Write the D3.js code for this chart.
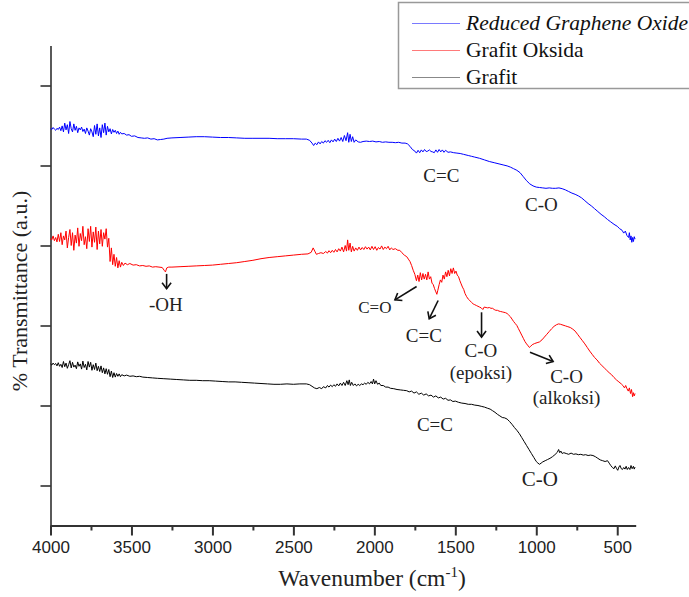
<!DOCTYPE html>
<meta charset="utf-8">
<style>

body {
  margin: 0;
  background: #fff;
}

svg {
  display: block;
  font-family: 'Liberation Serif', 'Times New Roman', serif;
}

.yaxis path, .yaxis line {
  stroke: #000;
  stroke-width: 1.3px;
}

.xaxis path, .xaxis line {
  stroke: #333;
  stroke-width: 2px;
}

.xaxis text {
  font-family: 'Liberation Sans', Arial, sans-serif;
  font-size: 17px;
  fill: #222;
}

.curve {
  fill: none;
  stroke-width: 1px;
}

.note {
  font-size: 19px;
  fill: #222;
  text-anchor: middle;
}

.note.small { font-size: 17px; }
.note.big { font-size: 21px; }

.arrow {
  stroke: #111;
  stroke-width: 1.6px;
}

.legend text {
  font-size: 21.5px;
  fill: #111;
}

.title {
  fill: #222;
  text-anchor: middle;
}

</style>
<body>
<script src="https://cdnjs.cloudflare.com/ajax/libs/d3/7.8.5/d3.min.js"></script>
<script>

// wavenumber (cm-1), transmittance (a.u., offset per sample)
var rgo = [[4000,99.2],[3992,99.0],[3984,99.5],[3976,99.1],[3968,98.8],[3960,99.3],[3952,99.0],[3944,99.6],[3936,98.7],[3928,99.9],
  [3920,98.4],[3912,100.6],[3904,98.9],[3896,100.2],[3888,98.0],[3880,101.0],[3872,99.2],[3864,98.4],[3856,100.4],[3848,98.8],
  [3840,99.8],[3832,98.2],[3824,99.4],[3816,98.9],[3808,99.6],[3800,98.5],[3792,99.1],[3784,98.0],[3776,99.4],[3768,98.6],
  [3760,97.6],[3752,99.2],[3744,98.4],[3736,97.2],[3728,100.0],[3720,97.8],[3712,100.4],[3704,97.4],[3696,99.4],[3688,97.0],
  [3680,100.2],[3672,98.2],[3664,100.6],[3656,97.6],[3648,99.8],[3640,98.4],[3632,99.2],[3624,97.9],[3616,99.0],[3608,98.3],
  [3600,98.8],[3592,98.0],[3584,98.6],[3576,97.8],[3568,98.3],[3560,97.9],[3545,98.0],[3530,97.6],[3515,97.7],[3500,97.3],
  [3480,97.4],[3460,97.0],[3440,96.9],
  [3420,96.8],[3400,96.9],[3380,96.6],[3360,96.7],[3340,96.4],[3320,96.5],[3300,96.6],[3280,96.8],[3250,96.9],[3200,97.0],
  [3150,97.1],[3100,97.2],[3050,97.2],[3000,97.1],[2950,97.0],[2900,97.0],[2850,96.9],[2800,96.8],[2750,96.8],[2700,96.8],
  [2650,96.8],[2600,96.7],[2550,96.7],[2500,96.7],[2450,96.6],[2420,96.6],[2400,96.3],[2385,95.6],[2375,95.0],[2365,95.6],
  [2355,95.2],[2345,95.9],[2335,95.4],[2325,96.0],[2315,95.6],[2305,96.2],[2295,95.8],[2285,96.3],[2275,95.7],[2265,96.4],
  [2255,95.9],[2245,96.6],[2235,96.0],[2225,96.8],[2215,96.1],[2205,97.0],[2195,96.0],[2185,97.5],[2175,96.2],[2165,98.2],
  [2158,95.8],[2150,97.8],[2142,96.0],[2134,97.2],[2125,95.8],[2115,96.4],[2100,95.9],[2085,95.8],[2070,96.0],[2050,96.1],
  [2030,96.0],[2010,96.1],[1990,95.9],[1970,96.0],[1950,95.8],[1930,95.9],[1910,95.8],[1890,95.8],[1870,95.7],[1850,95.8],
  [1830,95.6],[1810,95.6],[1795,95.4],[1780,94.8],[1765,94.0],[1750,93.6],[1740,93.1],[1730,93.8],[1720,93.2],[1710,93.9],
  [1700,93.4],[1690,94.0],[1680,93.5],[1670,93.6],[1660,93.9],[1650,93.5],[1640,93.4],[1630,93.2],[1620,93.9],[1610,93.3],
  [1600,94.0],[1590,93.4],[1580,93.9],[1570,93.3],[1560,93.8],[1545,93.3],[1530,93.4],[1510,93.2],[1490,93.1],[1470,93.0],
  [1450,92.8],[1420,92.5],[1400,92.3],[1380,92.1],[1350,91.8],[1320,91.4],[1290,91.0],[1260,90.7],[1230,90.4],[1200,90.1],
  [1180,89.9],[1160,89.6],[1140,89.2],[1120,88.8],[1100,88.2],[1080,87.2],[1060,86.2],[1040,85.4],[1020,84.9],[1000,84.6],
  [980,84.5],[960,84.4],[940,84.3],[920,84.4],[900,84.3],[880,84.3],[860,84.4],[840,84.2],[820,83.9],[800,83.5],
  [780,83.1],[760,82.8],[740,82.4],[720,81.9],[700,81.2],[680,80.5],[660,79.9],[640,79.2],[620,78.5],[600,77.8],
  [580,77.2],[560,76.5],[540,75.9],[520,75.3],[500,74.8],[485,74.2],[470,73.8],[460,73.1],[450,73.6],[440,72.5],
  [430,72.0],[425,73.2],[420,71.4],[415,72.4],[410,70.8],[405,72.0],[400,71.0],[395,72.2],[390,71.6]];

var go = [[4000,71.8],[3992,71.4],[3984,72.4],[3976,71.2],[3968,72.0],[3960,70.9],[3952,72.8],[3944,71.0],[3936,73.2],[3928,70.2],
  [3920,72.4],[3912,71.4],[3904,73.6],[3896,69.4],[3888,72.0],[3880,74.0],[3872,70.0],[3864,73.2],[3856,68.8],[3848,72.6],
  [3840,70.6],[3832,74.4],[3824,69.8],[3816,73.0],[3808,71.2],[3800,74.8],[3792,70.2],[3784,72.2],[3776,69.2],[3768,74.2],
  [3760,71.0],[3752,74.8],[3744,69.6],[3736,73.4],[3728,70.8],[3720,74.6],[3712,69.0],[3704,73.6],[3696,70.4],[3688,74.0],
  [3680,69.8],[3672,73.2],[3664,71.6],[3656,74.2],[3648,69.6],[3640,71.8],[3632,66.0],[3624,69.4],[3616,65.2],
  [3608,67.8],[3600,64.8],[3592,67.0],[3584,64.4],[3576,66.2],[3568,64.6],[3560,65.8],[3550,65.0],[3540,65.6],[3525,65.2],
  [3510,65.5],[3490,65.1],[3470,65.2],[3450,64.9],[3430,65.0],[3410,64.8],[3390,64.9],[3370,64.6],[3350,64.7],[3330,64.6],
  [3310,64.5],[3298,63.8],[3290,63.4],[3282,64.4],[3270,64.6],[3250,64.6],[3200,64.7],[3150,64.8],[3100,64.9],[3050,65.0],
  [3000,65.1],[2950,65.3],[2900,65.5],[2850,65.7],[2800,66.0],[2750,66.3],[2700,66.7],[2650,67.0],[2600,67.2],[2550,67.4],
  [2500,67.6],[2450,67.8],[2410,67.9],[2390,68.3],[2378,69.4],[2368,68.6],[2358,67.8],[2345,68.0],[2330,68.2],[2315,68.0],
  [2300,68.5],[2290,68.1],[2280,68.7],[2270,68.2],[2260,68.8],[2250,68.3],[2240,69.0],[2230,68.4],[2220,69.2],[2210,68.6],
  [2200,69.6],[2190,68.4],[2180,70.0],[2172,68.6],[2165,71.4],[2158,68.8],[2150,70.6],[2142,68.4],[2134,69.8],[2125,68.6],
  [2115,69.4],[2105,68.8],[2095,69.6],[2085,68.9],[2075,69.5],[2065,69.0],[2055,69.7],[2045,69.1],[2035,69.6],[2025,68.9],
  [2015,69.8],[2005,69.0],[1995,69.7],[1985,68.8],[1975,69.5],[1965,69.1],[1955,69.9],[1945,69.0],[1935,69.6],[1925,69.2],
  [1915,69.8],[1905,68.9],[1895,69.4],[1885,69.0],[1870,69.2],[1855,68.8],[1843,68.8],[1830,68.2],[1815,67.6],[1800,67.2],
  [1790,66.6],[1780,66.0],[1770,65.0],[1760,63.8],[1750,62.8],[1740,61.2],[1732,62.6],[1724,61.0],[1716,63.2],[1708,61.4],
  [1700,63.0],[1692,61.6],[1684,62.8],[1676,61.4],[1668,63.4],[1660,61.6],[1652,62.2],[1644,60.6],[1636,60.2],[1628,59.2],
  [1620,58.4],[1614,57.8],[1608,58.8],[1600,60.2],[1592,61.4],[1584,60.8],[1576,62.6],[1568,61.6],[1560,63.4],[1552,62.2],
  [1544,63.8],[1536,62.4],[1528,64.2],[1520,63.0],[1512,64.4],[1504,63.0],[1496,63.6],[1488,62.6],[1480,62.2],[1472,61.2],
  [1464,60.4],[1456,59.6],[1448,59.0],[1440,58.0],[1430,57.2],[1420,56.6],[1410,56.2],[1400,55.8],[1390,55.4],[1380,55.2],
  [1370,55.0],[1360,54.8],[1350,54.6],[1340,54.4],[1330,54.0],[1322,54.6],[1310,54.5],[1300,54.4],[1290,54.5],[1280,54.3],
  [1270,54.3],[1260,54.0],[1250,53.8],[1240,53.8],[1230,53.6],[1220,53.5],[1210,53.4],[1200,53.3],[1190,53.2],[1180,53.0],
  [1170,52.6],[1160,52.2],[1150,51.6],[1140,51.0],[1130,50.5],[1120,50.0],[1110,49.2],[1100,48.4],[1090,47.6],[1080,46.8],
  [1070,46.0],[1060,45.4],[1050,44.9],[1042,44.5],[1035,44.8],[1025,45.2],[1010,45.5],[995,45.7],[980,45.9],[965,46.4],
  [950,47.1],[935,47.8],[920,48.5],[905,49.2],[890,49.8],[875,50.2],[862,50.4],[850,50.3],[835,50.1],[820,49.9],
  [805,49.7],[790,49.5],[775,49.1],[760,48.6],[745,47.8],[730,47.0],[715,46.2],[700,45.4],[685,44.5],[670,43.6],
  [655,42.8],[640,42.0],[625,41.4],[610,40.6],[595,40.0],[580,39.4],[565,38.8],[550,38.2],[535,37.7],[520,37.0],
  [505,36.4],[490,35.9],[475,35.4],[465,35.0],[455,34.4],[448,35.0],[440,34.2],[432,33.6],[425,34.4],[418,33.0],
  [412,34.0],[405,32.2],[400,33.2],[395,32.4],[390,33.0]];

var grafit = [[4000,40.4],[3992,40.1],[3984,40.6],[3976,40.2],[3968,40.5],[3960,39.9],[3952,40.7],[3944,39.8],[3936,40.3],[3928,39.5],
  [3920,41.0],[3912,39.7],[3904,40.6],[3896,39.3],[3888,40.2],[3880,41.2],[3872,39.4],[3864,40.8],[3856,39.6],[3848,40.1],
  [3840,39.2],[3832,40.9],[3824,39.8],[3816,40.4],[3808,39.1],[3800,41.1],[3792,39.5],[3784,40.3],[3776,38.9],[3768,41.0],
  [3760,39.6],[3752,40.8],[3744,38.8],[3736,40.2],[3728,39.0],[3720,40.6],[3712,38.7],[3704,39.8],[3696,38.5],[3688,39.9],
  [3680,38.2],[3672,39.4],[3664,37.9],[3656,39.2],[3648,37.8],[3640,39.0],[3632,37.2],[3624,38.6],[3616,37.0],[3608,38.2],
  [3600,37.1],[3592,38.0],[3584,37.3],[3576,37.9],[3568,37.2],[3560,37.7],[3545,37.4],[3530,37.6],[3510,37.3],[3490,37.4],
  [3470,37.2],
  [3450,37.3],[3430,37.1],[3400,37.0],[3370,36.9],[3340,36.8],[3300,36.7],[3260,36.6],[3220,36.5],[3180,36.4],[3140,36.3],
  [3100,36.3],[3060,36.2],[3020,36.2],[2980,36.1],[2940,36.0],[2900,35.9],[2860,35.9],[2820,35.8],[2780,35.7],[2740,35.6],
  [2700,35.5],[2660,35.4],[2620,35.3],[2580,35.3],[2540,35.4],[2500,35.3],[2460,35.4],[2420,35.4],[2400,35.2],[2385,34.8],
  [2370,34.4],[2355,34.2],[2340,34.5],[2325,34.2],[2315,34.7],[2300,34.4],[2290,35.0],[2280,34.6],[2270,35.1],[2260,34.7],
  [2250,35.2],[2240,34.8],[2230,35.4],[2220,34.9],[2210,35.6],[2200,35.0],[2190,35.8],[2180,35.0],[2170,36.2],[2162,35.2],
  [2155,36.4],[2148,35.0],[2140,35.8],[2130,35.0],[2120,35.4],[2110,34.9],[2100,35.3],[2090,35.0],[2080,35.4],[2070,35.2],
  [2060,35.6],[2050,35.3],[2040,35.8],[2030,35.4],[2020,36.0],[2012,35.4],[2005,36.6],[1998,35.4],[1990,36.2],[1980,35.3],
  [1970,35.6],[1960,35.0],[1945,35.0],[1930,34.6],[1915,34.6],[1900,34.3],[1880,34.2],[1860,34.0],[1840,33.9],[1820,33.8],
  [1800,33.7],[1785,33.4],[1770,33.6],[1755,33.1],[1740,33.4],[1725,32.8],[1710,33.1],[1695,32.6],[1680,32.9],[1665,32.4],
  [1650,32.6],[1635,32.1],[1620,32.4],[1605,31.9],[1590,32.1],[1575,31.6],[1560,31.8],[1545,31.3],[1530,31.4],[1515,31.0],
  [1500,31.1],[1480,30.8],[1460,30.6],[1440,30.5],[1420,30.3],[1400,30.3],[1380,30.1],[1360,30.0],[1340,29.8],[1320,29.6],
  [1300,29.3],[1285,29.1],[1270,28.7],[1255,28.3],[1240,27.8],[1225,27.4],[1210,27.0],[1195,26.9],[1180,26.6],[1165,26.0],
  [1150,25.3],[1135,24.5],[1120,23.8],[1105,23.0],[1090,22.0],[1075,21.0],[1060,20.0],[1045,19.0],[1030,18.0],[1015,17.0],
  [1000,16.0],[990,15.6],[980,15.3],[970,15.6],[960,15.9],[945,16.2],[930,16.5],[915,16.8],[900,17.2],[885,17.7],
  [870,18.3],[862,19.0],[855,18.2],[848,18.6],[840,18.0],[830,18.2],[815,18.0],[800,17.8],[785,18.1],[770,17.8],
  [755,17.9],[740,17.7],[725,17.8],[710,17.6],[695,17.7],[680,17.5],[665,17.6],[650,17.5],[635,17.2],[620,16.8],
  [605,16.4],[590,16.2],[575,16.0],[560,16.2],[550,15.6],[540,15.0],[530,14.5],[520,14.2],[512,14.9],[505,14.3],
  [497,13.8],[490,14.6],[483,15.0],[475,14.2],[468,14.0],[460,14.5],[452,14.1],[445,14.8],[438,14.0],[430,14.5],
  [422,14.0],[415,15.0],[408,14.2],[400,14.8],[395,14.1],[390,14.6]];

var seriesNames = ['Reduced Graphene Oxide', 'Grafit Oksida', 'Grafit'];
var seriesColors = ['#0000ff', '#ff0000', '#000000'];
var legendColors = ['#7a7aff', '#ff7a7a', '#888888'];

var xMajor = [4000, 3500, 3000, 2500, 2000, 1500, 1000, 500];
var xMinor = [3750, 3250, 2750, 2250, 1750, 1250, 750];
var yTicks = [10, 30, 50, 70, 90, 110];

// band labels: text, wavenumber, transmittance
var notes = [
  ['C=C', 1586, 85.8, ''], ['C-O', 968, 78.75, ''],
  ['-OH', 3288, 53.75, ''], ['C=O', 1997, 53.1, 'small'], ['C=C', 1694, 45.8, ''],
  ['C-O', 1342, 42.1, ''], ['(epoksi)', 1342, 36.75, ''],
  ['C-O', 813, 35.6, ''], ['(alkoksi)', 813, 30.4, ''],
  ['C=C', 1626, 23.75, ''], ['C-O', 978, 10, 'big']
];

// arrows: from [wn, T] to [wn, T]
var arrows = [
  [[1739, 59.75], [1873, 56.4]],
  [[1606, 56.25], [1661, 51.7]],
  [[1338, 53.3], [1338, 47.1]],
  [[1039, 43.3], [896, 41.0]],
  [[3283, 62.9], [3283, 59.2]]
];

var svg = d3.select('body')
            .append('svg')
            .attr('width', 689)
            .attr('height', 597)

var x = d3.scaleLinear().domain([4000, 386]).range([50.5, 635.7]);
var y = d3.scaleLinear().domain([0, 120]).range([525.5, 45.5]);

svg.append('defs')
  .append('marker')
    .attr('id', 'arrowhead')
    .attr('viewBox', '-10 -10 20 20')
    .attr('markerUnits', 'userSpaceOnUse')
    .attr('markerWidth', 20)
    .attr('markerHeight', 20)
    .attr('orient', 'auto')
  .append('polyline')
    .attr('fill', 'none')
    .attr('stroke', '#111')
    .attr('stroke-width', 1.6)
    .attr('points', '-6,-4.5 0,0 -6,4.5');

// axes
svg.append('g')
   .attr('class', 'yaxis')
   .attr('transform', 'translate(50.5,0)')
   .call(d3.axisLeft(y).tickValues(yTicks).tickSize(10).tickSizeOuter(0).tickFormat(''));

svg.append('g')
   .attr('class', 'xaxis')
   .attr('transform', 'translate(0,' + y(0) + ')')
   .call(d3.axisBottom(x).tickValues(xMinor).tickSize(5).tickSizeOuter(0).tickFormat(''))
   .select('.domain').remove();

svg.append('g')
   .attr('class', 'xaxis')
   .attr('transform', 'translate(0,' + y(0) + ')')
   .call(d3.axisBottom(x).tickValues(xMajor).tickSize(10).tickSizeOuter(0).tickPadding(5).tickFormat(d3.format('d')));

// spectra
var line = d3.line()
  .x(function(d) { return x(d[0]); })
  .y(function(d) { return y(d[1]); });

[rgo, go, grafit].forEach(function(s, i) {
  svg.append('path')
     .datum(s)
     .attr('class', 'curve')
     .attr('stroke', seriesColors[i])
     .attr('d', line);
});

// band labels
notes.forEach(function(n) {
  svg.append('text')
     .attr('class', 'note ' + n[3])
     .attr('x', x(n[1]))
     .attr('y', y(n[2]))
     .text(n[0]);
});

arrows.forEach(function(a) {
  svg.append('line')
     .attr('class', 'arrow')
     .attr('x1', x(a[0][0])).attr('y1', y(a[0][1]))
     .attr('x2', x(a[1][0])).attr('y2', y(a[1][1]))
     .attr('marker-end', 'url(#arrowhead)');
});

// axis titles
svg.append('text')
   .attr('class', 'title')
   .attr('transform', 'translate(27,291) rotate(-90)')
   .style('font-size', '22px')
   .text('% Transmittance (a.u.)');

var xt = svg.append('text')
   .attr('class', 'title')
   .attr('x', 372)
   .attr('y', 586)
   .style('font-size', '23.5px');
xt.append('tspan').text('Wavenumber (cm');
xt.append('tspan').attr('dy', -9).style('font-size', '15px').text('-1');
xt.append('tspan').attr('dy', 9).text(')');

// legend
var legend = svg.append('g').attr('class', 'legend');

legend.append('rect')
   .attr('x', 398.5)
   .attr('y', 2.5)
   .attr('width', 300)
   .attr('height', 86)
   .attr('fill', '#fff')
   .attr('stroke', '#999')
   .attr('stroke-width', 1.5);

seriesNames.forEach(function(name, i) {
  legend.append('line')
     .attr('x1', 412).attr('x2', 460)
     .attr('y1', 23.5 + i * 27).attr('y2', 23.5 + i * 27)
     .attr('stroke', legendColors[i]);
  legend.append('text')
     .attr('x', 466)
     .attr('y', 29.5 + i * 27)
     .style('font-style', i == 0 ? 'italic' : 'normal')
     .text(name);
});

</script>
</body>
